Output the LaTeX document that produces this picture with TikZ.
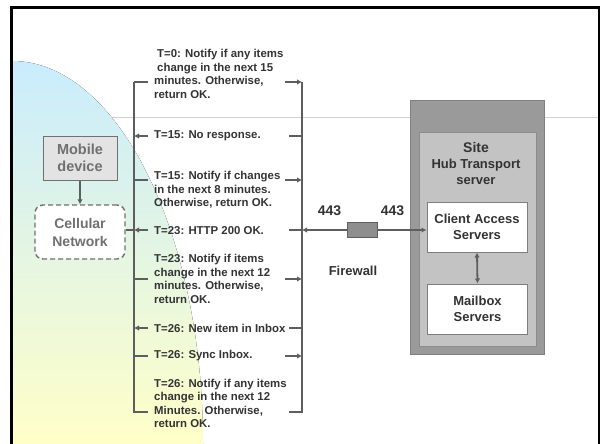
\documentclass[tikz,border=0pt]{standalone}
\usepackage{fontspec}
\setmainfont{Liberation Sans}
\usetikzlibrary{arrows.meta,calc,positioning}
\definecolor{Ink}{HTML}{333333}
\definecolor{Wire}{HTML}{5E5E5E}
\definecolor{Pale}{HTML}{707070}
\definecolor{Sky}{HTML}{C9ECFD}
\definecolor{Mist}{HTML}{E6F6E4}
\definecolor{Cream}{HTML}{FFFFC8}
\definecolor{Rule}{HTML}{D0D0D0}
\definecolor{SiteOut}{HTML}{9A9A9A}
\definecolor{SiteIn}{HTML}{C3C3C3}
\definecolor{Wall}{HTML}{8E8E8E}

\tikzset{
  msg/.style={anchor=west,inner sep=0pt,align=left,text=Ink,
              font=\fontsize{11.4}{13.6}\selectfont\bfseries},
  stub/.style={line width=1.8pt,color=Wire},
  tip/.style={stub,-{Latex[length=5pt,width=5.5pt]}},
  srvbox/.style={draw=Wire!80,line width=1pt,fill=white,minimum width=100,
                 minimum height=50,align=center,text=Ink,
                 font=\fontsize{13}{16}\selectfont\bfseries}
}

\begin{document}
\begin{tikzpicture}[x=1pt,y=-1pt]
  \useasboundingbox[fill=white] (0,0) rectangle (600,444);

  % rule and shaded backdrop
  \draw[Rule,line width=1pt] (13,117) -- (598,117);
  \fill[top color=Sky,middle color=Mist,bottom color=Cream]
    (12,61) .. controls (117,61) and (203,232) .. (203,444) -- (12,444) -- cycle;

  % frame
  \draw[line width=3pt] (10,7.5) -- (600,7.5);
  \draw[line width=2.5pt] (11.5,7) -- (11.5,444);
  \draw[line width=1.5pt] (599,7) -- (599,444);

  % the two ends of the exchange
  \coordinate (ltop) at (134,82);
  \coordinate (lbot) at (134,412.5);
  \coordinate (rtop) at (302,82);
  \coordinate (rbot) at (302,412.5);
  \draw[stub,line width=2.4pt] (ltop) -- (lbot);
  \draw[stub,line width=2.4pt] (rtop) -- (rbot);

  \coordinate (t0)   at (0,82);
  \coordinate (t15a) at (0,136);
  \coordinate (t15b) at (0,180);
  \coordinate (t23a) at (0,230);
  \coordinate (t23b) at (0,279);
  \coordinate (t26a) at (0,328);
  \coordinate (t26b) at (0,356);
  \coordinate (t26c) at (0,412);

  \node[msg] (m1) at (154,74)
    {\hspace*{3pt}T=0: Notify if any items\\\hspace*{3pt}change in the next 15\\minutes. Otherwise,\\return OK.};
  \node[msg] (m2) at (154,136) {T=15: No response.};
  \node[msg] (m3) at (154,190)
    {T=15: Notify if changes\\in the next 8 minutes.\\Otherwise, return OK.};
  \node[msg] (m4) at (154,231) {T=23: HTTP 200 OK.};
  \node[msg] (m5) at (154,279)
    {T=23: Notify if items\\change in the next 12\\minutes. Otherwise,\\return OK.};
  \node[msg] (m6) at (154,328) {T=26: New item in Inbox};
  \node[msg] (m7) at (154,356) {T=26: Sync Inbox.};
  \node[msg] (m8) at (154,403.5)
    {T=26: Notify if any items\\change in the next 12\\Minutes. Otherwise,\\return OK.};

  % requests go out, responses come back
  \draw[stub] (ltop |- t0) -- ++(14,0);
  \draw[tip] ($(rtop |- t0)+(-17,0)$) -- (rtop |- t0);
  \draw[tip] ($(ltop |- t15a)+(14,0)$) -- (ltop |- t15a);
  \draw[stub] (rtop |- t15a) -- ++(-13,0);
  \draw[stub] (ltop |- t15b) -- ++(14,0);
  \draw[tip] ($(rtop |- t15b)+(-17,0)$) -- (rtop |- t15b);
  \draw[tip] ($(ltop |- t23a)+(14,0)$) -- (ltop |- t23a);
  \draw[stub] (rtop |- t23a) -- ++(-13,0);
  \draw[stub] (ltop |- t23b) -- ++(14,0);
  \draw[tip] ($(rtop |- t23b)+(-17,0)$) -- (rtop |- t23b);
  \draw[tip] ($(ltop |- t26a)+(14,0)$) -- (ltop |- t26a);
  \draw[stub] (rtop |- t26a) -- ++(-13,0);
  \draw[stub] (ltop |- t26b) -- ++(14,0);
  \draw[tip] ($(rtop |- t26b)+(-17,0)$) -- (rtop |- t26b);
  \draw[stub] (ltop |- t26c) -- ++(14,0);
  \draw[stub] (rtop |- t26c) -- ++(-13,0);

  % client side
  \node[draw=Pale,line width=1pt,fill=black!11,minimum width=74,minimum height=44,
        align=center,text=Pale,font=\fontsize{14.5}{17}\selectfont\bfseries]
    (mob) at (80,158) {Mobile\\device};
  \node[draw=Pale,dashed,dash pattern=on 5pt off 3pt,line width=1.4pt,rounded corners=8pt,
        fill=white,minimum width=90,minimum height=54,align=center,text=Pale,
        font=\fontsize{14}{18}\selectfont\bfseries]
    (cell) at (80,232) {Cellular\\Network};
  \draw[tip] (mob.south) -- (cell.north);
  \draw[stub] (cell.east |- t23a) -- (ltop |- t23a);

  % site
  \node[draw=black!50,fill=SiteOut,minimum width=134,minimum height=254] (site) at (477,227) {};
  \node[draw=black!45,fill=SiteIn,minimum width=117,minimum height=214] (hub) at (477.5,239) {};
  \node[align=center,text=Ink,font=\fontsize{13}{16}\selectfont\bfseries] (hubname) at (476,163)
    {{\fontsize{14}{16}\selectfont Site}\\Hub Transport\\server};
  \node[srvbox] (cas) at (477,227) {Client Access\\Servers};
  \node[srvbox] (mbx) at (477.5,309) {Mailbox\\Servers};
  \draw[stub,{Latex[length=5pt,width=5.5pt]}-{Latex[length=5pt,width=5.5pt]}] (cas.south) -- (mbx.north);

  % firewall between the two
  \node[draw=Wire,line width=1pt,fill=Wall,minimum width=30,minimum height=15,inner sep=0pt]
    (fw) at (362,230) {};
  \draw[tip] (fw.west) -- (fw.west -| rtop);
  \draw[tip] (fw.east) -- (fw.east -| cas.west);
  \node[text=Ink,font=\fontsize{14}{16}\selectfont\bfseries,above=3pt of fw.north west,xshift=-17pt] (pin) {443};
  \node[text=Ink,font=\fontsize{14}{16}\selectfont\bfseries,above=3pt of fw.north east,xshift=15pt] (pout) {443};
  \node[text=Ink,font=\fontsize{13}{16}\selectfont\bfseries] (fwname) at (353,271) {Firewall};
\end{tikzpicture}
\end{document}
